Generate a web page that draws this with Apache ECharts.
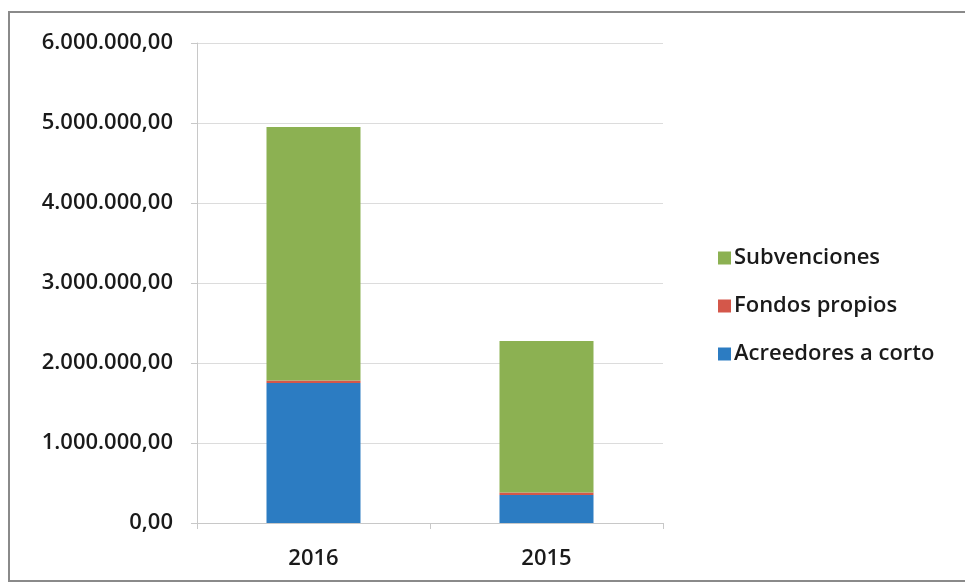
<!DOCTYPE html>
<html><head><meta charset="utf-8">
<script src="https://cdn.jsdelivr.net/npm/echarts@6/dist/echarts.min.js"></script>
<style>html,body{margin:0;padding:0;background:#fff}#c{width:965px;height:588px}</style>
</head><body><div id="c"></div>
<script>
const categories = ['2016', '2015'];
const acreedores = [1750000, 350000];
const fondos = [30000, 30000];
const subvenciones = [3170000, 1895000];
const yTicks = [0, 1000000, 2000000, 3000000, 4000000, 5000000, 6000000];

function fmt(v) {
  const s = Math.round(v).toString().replace(/\B(?=(\d{3})+(?!\d))/g, '.');
  return s + ',00';
}
const FONT = 'Open Sans';
const W = 600;
const chart = echarts.init(document.getElementById('c'));
chart.setOption({
  animation: false,
  backgroundColor: '#fff',
  graphic: [{
    type: 'rect', shape: { x: 9, y: 12, width: 980, height: 569 },
    style: { fill: null, stroke: '#8a8a8a', lineWidth: 2 }, silent: true, z: -1
  }],
  grid: { left: 197, right: 302, top: 43, bottom: 65 },
  legend: {
    orient: 'vertical', left: 713, top: 242, itemGap: 26,
    itemWidth: 13, itemHeight: 13, icon: 'rect',
    data: ['Subvenciones', 'Fondos propios', 'Acreedores a corto'],
    textStyle: { fontFamily: FONT, fontSize: 22, fontWeight: W, color: '#1a1a1a', padding: [0, 0, 0, -2] }
  },
  xAxis: {
    type: 'category', data: categories,
    axisLine: { lineStyle: { color: '#c8c8c8', width: 1 } },
    axisTick: { show: true, length: 6, lineStyle: { color: '#c8c8c8' } },
    axisLabel: { fontFamily: FONT, fontSize: 22, fontWeight: W, color: '#1a1a1a', margin: 25 }
  },
  yAxis: {
    type: 'value', min: 0, max: 6000000, interval: 1000000,
    axisLine: { show: true, lineStyle: { color: '#c8c8c8' } },
    axisTick: { show: true, length: 6, lineStyle: { color: '#c8c8c8' } },
    splitLine: { lineStyle: { color: '#dcdcdc' } },
    axisLabel: {
      fontFamily: FONT, fontSize: 22, fontWeight: W, color: '#1a1a1a', margin: 24,
      formatter: v => yTicks.includes(v) ? fmt(v) : ''
    }
  },
  series: [
    { name: 'Acreedores a corto', type: 'bar', stack: 's', data: acreedores, barWidth: 94, itemStyle: { color: '#2c7cc2' } },
    { name: 'Fondos propios', type: 'bar', stack: 's', data: fondos, itemStyle: { color: '#d4574a' } },
    { name: 'Subvenciones', type: 'bar', stack: 's', data: subvenciones, itemStyle: { color: '#8cb152' } }
  ]
});
</script></body></html>
